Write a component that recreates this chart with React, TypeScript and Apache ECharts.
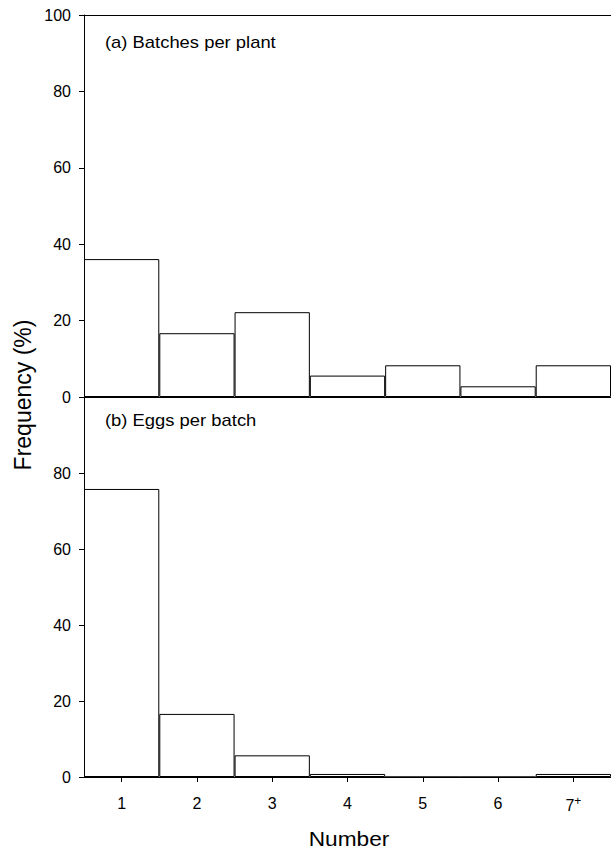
import React, { useEffect, useRef } from "react";
import * as echarts from "echarts";

const categories = ["1", "2", "3", "4", "5", "6", "7+"];
const batchesPerPlant = [36.1, 16.7, 22.2, 5.6, 8.3, 2.8, 8.3];
const eggsPerBatch = [75.8, 16.6, 5.7, 0.8, 0, 0, 0.8];
const yTitle = "Frequency (%)";
const xTitle = "Number";
const panelA = "(a) Batches per plant";
const panelB = "(b) Eggs per batch";

const FONT = "'Liberation Sans', Arial, sans-serif";

export default function App() {
  const ref = useRef<HTMLDivElement>(null);
  useEffect(() => {
    if (!ref.current) return;
    const chart = echarts.init(ref.current, null, { renderer: "svg" });
    const axisLine = { show: true, lineStyle: { color: "#000", width: 1 } };
    const yAxisCommon = {
      type: "value",
      min: 0,
      max: 100,
      interval: 20,
      axisLine,
      axisTick: { show: true, length: 5, lineStyle: { color: "#000" } },
      axisLabel: { fontFamily: FONT, fontSize: 16, color: "#000", margin: 13 },
      splitLine: { show: false },
    };
    const barSeries = (data: number[], idx: number) => ({
      type: "bar",
      xAxisIndex: idx,
      yAxisIndex: idx,
      data,
      barCategoryGap: 0,
      barGap: 0,
      itemStyle: { color: "#fff", borderColor: "#000", borderWidth: 1 },
      silent: true,
    });
    chart.setOption({
      animation: false,
      grid: [
        { left: 84, top: 15, width: 531, height: 382 },
        { left: 84, top: 397, width: 531, height: 380 },
      ],
      xAxis: [
        {
          type: "category",
          gridIndex: 0,
          data: categories,
          axisLine,
          axisTick: { show: false },
          axisLabel: { show: false },
        },
        {
          type: "category",
          gridIndex: 1,
          data: categories,
          axisLine,
          axisTick: { show: true, alignWithLabel: true, interval: 0, length: 5, inside: false, lineStyle: { color: "#000" } },
          axisLabel: {
            interval: 0,
            hideOverlap: false,
            fontFamily: FONT,
            fontSize: 16,
            color: "#000",
            margin: 18,
            formatter: (v: string) => (v.endsWith("+") ? v.slice(0, -1) + "{sup|+}" : v),
            rich: {
              sup: { fontFamily: FONT, fontSize: 12, color: "#000", verticalAlign: "bottom", padding: [0, 0, 8, 0] },
            },
          },
        },
        {
          type: "category",
          gridIndex: 0,
          position: "top",
          data: categories,
          axisLine,
          axisTick: { show: false },
          axisLabel: { show: false },
        },
      ],
      yAxis: [
        { ...yAxisCommon, gridIndex: 0 },
        {
          ...yAxisCommon,
          gridIndex: 1,
          axisLabel: { ...yAxisCommon.axisLabel, showMaxLabel: false, formatter: (v: number) => (v >= 100 ? "" : String(v)) },
        },
      ],
      series: [barSeries(batchesPerPlant, 0), barSeries(eggsPerBatch, 1)],
      graphic: [
        {
          type: "text",
          x: 105,
          y: 42,
          scaleX: 1.15,
          style: { text: panelA, fontFamily: FONT, fontSize: 16, fill: "#000", verticalAlign: "middle" },
        },
        {
          type: "text",
          x: 105,
          y: 420,
          scaleX: 1.15,
          style: { text: panelB, fontFamily: FONT, fontSize: 16, fill: "#000", verticalAlign: "middle" },
        },
        {
          type: "text",
          x: 23,
          y: 395,
          rotation: Math.PI / 2,
          style: { text: yTitle, fontFamily: FONT, fontSize: 23, fill: "#000", align: "center", verticalAlign: "middle" },
        },
        {
          type: "text",
          x: 349,
          y: 839,
          scaleX: 1.08,
          style: { text: xTitle, fontFamily: FONT, fontSize: 21, fill: "#000", align: "center", verticalAlign: "middle" },
        },
      ],
    });
    return () => chart.dispose();
  }, []);
  return (
    <div
      ref={ref}
      style={{ position: "fixed", left: 0, top: 0, width: 611, height: 852, background: "#fff" }}
    />
  );
}
